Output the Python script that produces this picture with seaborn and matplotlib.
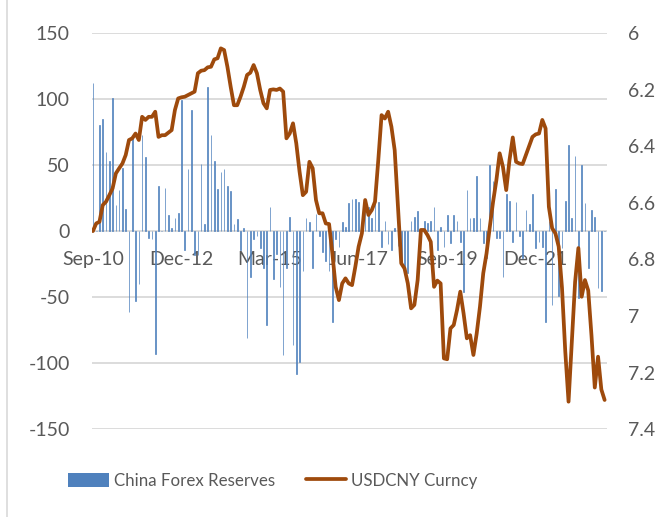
import matplotlib
matplotlib.use("Agg")
import matplotlib.pyplot as plt
from matplotlib.patches import Patch
from matplotlib.lines import Line2D
import numpy as np
import pandas as pd
import seaborn as sns

# Monthly data, Sep-10 onwards
reserves = [
    112, 0, 80, 85, 60, 53, 101, 20, 31, 48, 17, -61, 70, -53, -40, 73, 56, -5, -6, -93,
    34, 0, 33, 12, 2, 10, 14, 99, -14, 47, 92, -18, -18, 51, 5, 109, 73, 53, 32, 45,
    47, 34, 30, 5, 9, -14, 2, -81, -35, -6, -4, -13, -28, -71, 18, -36, -17, -42, -94, -28,
    11, -86, -108, -99, -30, 10, 7, -28, 13, -4, -16, -23, -30, -69, -6, -12, 7, 3, 21, 24,
    24, 22, 11, 23, 18, 10, 21, 22, -12, 8, -10, -14, 2, -11, -22, -30, -32, 8, 11, 15,
    -3, 8, 6, 8, 18, -14, 3, -12, 12, -9, 12, 8, -8, -46, 31, 10, 10, 42, 10, -9,
    -20, 50, 38, -5, -5, -35, 28, 23, -8, 22, -4, -20, 16, 5, 28, -13, -8, -12, -69, 8,
    -56, 32, -49, -13, 23, 65, 10, 57, -51, 50, 21, -28, 16, 11, -43, -45, 0,
]
usdcny = [
    6.700, 6.673, 6.667, 6.608, 6.596, 6.573, 6.549, 6.496, 6.478, 6.461, 6.431, 6.378, 6.372, 6.355, 6.378, 6.296, 6.307, 6.296, 6.296, 6.278,
    6.367, 6.361, 6.361, 6.352, 6.343, 6.272, 6.231, 6.227, 6.225, 6.219, 6.213, 6.207, 6.142, 6.133, 6.131, 6.121, 6.119, 6.093, 6.089, 6.054,
    6.060, 6.119, 6.190, 6.255, 6.255, 6.225, 6.190, 6.148, 6.140, 6.113, 6.142, 6.201, 6.248, 6.266, 6.201, 6.199, 6.201, 6.196, 6.207, 6.372,
    6.355, 6.319, 6.390, 6.490, 6.573, 6.561, 6.455, 6.478, 6.590, 6.637, 6.637, 6.673, 6.675, 6.779, 6.897, 6.944, 6.885, 6.867, 6.885, 6.891,
    6.826, 6.755, 6.708, 6.590, 6.643, 6.626, 6.596, 6.449, 6.290, 6.302, 6.278, 6.331, 6.414, 6.614, 6.814, 6.832, 6.885, 6.973, 6.961, 6.873,
    6.696, 6.696, 6.714, 6.738, 6.897, 6.875, 6.885, 7.150, 7.153, 7.044, 7.032, 6.979, 6.914, 6.991, 7.079, 7.068, 7.138, 7.062, 6.967, 6.849,
    6.779, 6.685, 6.596, 6.520, 6.425, 6.473, 6.555, 6.449, 6.369, 6.455, 6.461, 6.463, 6.431, 6.400, 6.367, 6.358, 6.355, 6.307, 6.337, 6.614,
    6.690, 6.708, 6.755, 6.900, 7.125, 7.303, 7.090, 6.880, 6.760, 6.932, 6.873, 6.910, 7.070, 7.253, 7.144, 7.260, 7.297,
]
months = pd.date_range("2010-09-01", periods=len(reserves), freq="MS").strftime("%b-%y").tolist()
label_step = 27

left_ticks = [150, 100, 50, 0, -50, -100, -150]
right_ticks = [6.0, 6.2, 6.4, 6.6, 6.8, 7.0, 7.2, 7.4]

bar_color = "#4F81BD"
line_color = "#9E4A0C"
text_color = "#595959"
grid_color = "#D9D9D9"

sns.set_style("white")
plt.rcParams["font.family"] = ["Lato", "DejaVu Sans"]

df = pd.DataFrame({"Month": months, "China Forex Reserves": reserves, "USDCNY Curncy": usdcny})
df["pos"] = np.arange(len(df))

fig = plt.figure(figsize=(6.71, 5.17), dpi=100)
ax = fig.add_axes([0.137, 0.170, 0.7675, 0.766])

for t in left_ticks:
    ax.axhline(t, color=grid_color, lw=1.3, zorder=0)

sns.barplot(data=df, x="Month", y="China Forex Reserves", ax=ax, color=bar_color,
            saturation=1, width=0.2, errorbar=None, zorder=2,
            edgecolor=bar_color, linewidth=0.6, alpha=0.85)

ax.set_ylim(-150, 150)
ax.set_xlim(-0.3, len(df) - 0.3)
ax.set_yticks(left_ticks)
ax.set_yticklabels([str(t) for t in left_ticks])
ax.set_xticks(range(0, len(df), label_step))
ax.set_xticklabels(months[::label_step])
ax.set_xlabel("")
ax.set_ylabel("")
ax.tick_params(axis="y", length=0, pad=16, labelsize=14, labelcolor=text_color)
ax.tick_params(axis="x", length=0, pad=14, labelsize=14, labelcolor=text_color)
for s in ax.spines.values():
    s.set_visible(False)
ax.spines["bottom"].set_position(("data", 0))

ax2 = ax.twinx()
sns.lineplot(data=df, x="pos", y="USDCNY Curncy", ax=ax2, color=line_color, lw=2.7)
ax2.set_ylim(7.4, 6.0)
ax2.set_xlim(-0.3, len(df) - 0.3)
ax2.set_yticks(right_ticks)
ax2.set_yticklabels([f"{t:g}" for t in right_ticks])
ax2.set_ylabel("")
ax2.set_xlabel("")
ax2.tick_params(axis="y", length=0, pad=15, labelsize=14, labelcolor=text_color)
for s in ax2.spines.values():
    s.set_visible(False)

handles = [Patch(facecolor=bar_color, edgecolor="none"),
           Line2D([0], [0], color=line_color, lw=2.7)]
fig.legend(handles, ["China Forex Reserves", "USDCNY Curncy"], loc="center",
           bbox_to_anchor=(0.407, 0.07), ncol=2, frameon=False, fontsize=12.2,
           handlelength=2.4, handleheight=0.85, handletextpad=0.3, columnspacing=1.8,
           labelcolor=text_color)

# chart border on the left edge
fig.add_artist(Line2D([7 / 671, 7 / 671], [0, 1], color=grid_color, lw=1.2))

fig.savefig("out.png", dpi=100)
